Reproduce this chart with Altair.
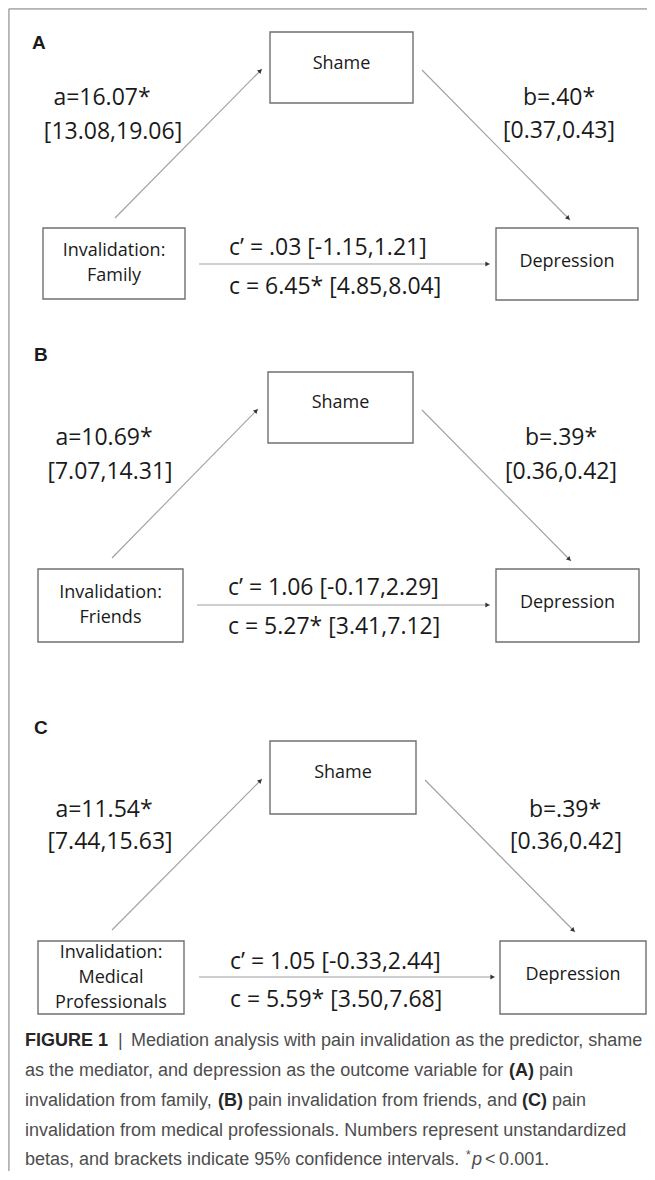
import altair as alt
import pandas as pd
import numpy as np

# ---------------- data (text content) ----------------
panels = ["A", "B", "C"]
mediator = "Shame"
outcome = "Depression"
predictors = [["Invalidation:", "Family"],
              ["Invalidation:", "Friends"],
              ["Invalidation:", "Medical", "Professionals"]]
a_coef = ["a=16.07*", "a=10.69*", "a=11.54*"]
a_ci = ["[13.08,19.06]", "[7.07,14.31]", "[7.44,15.63]"]
b_coef = ["b=.40*", "b=.39*", "b=.39*"]
b_ci = ["[0.37,0.43]", "[0.36,0.42]", "[0.36,0.42]"]
c_direct = ["c\u2019 = .03 [-1.15,1.21]", "c\u2019 = 1.06 [-0.17,2.29]", "c\u2019 = 1.05 [-0.33,2.44]"]
c_total = ["c = 6.45* [4.85,8.04]", "c = 5.27* [3.41,7.12]", "c = 5.59* [3.50,7.68]"]

# caption segments: (line, text, style)
caption_segments = [
    (0, "FIGURE 1", "bold"), (0, "|", "normal"),
    (0, "Mediation analysis with pain invalidation as the predictor, shame", "normal"),
    (1, "as the mediator, and depression as the outcome variable for", "normal"),
    (1, "(A)", "bold"), (1, "pain", "normal"),
    (2, "invalidation from family,", "normal"), (2, "(B)", "bold"),
    (2, "pain invalidation from friends, and", "normal"), (2, "(C)", "bold"), (2, "pain", "normal"),
    (3, "invalidation from medical professionals. Numbers represent unstandardized", "normal"),
    (4, "betas, and brackets indicate 95% confidence intervals.", "normal"),
    (4, "*", "sup"), (4, "p", "italic"), (4, "<\u20090.001.", "normal"),
]

# ---------------- layout (page pixel positions) ----------------
layout = [
    dict(letter=(32, 43), shame=(270, 413, 32, 103), shame_t=64,
         pred=(43, 185, 228, 299), dep=(496, 638, 228, 300), dep_t=262,
         a_arrow=(115, 218, 262, 69), b_arrow=(422, 70, 570, 220), c_arrow=(199, 264, 490, 264),
         a_txt=(102, 98, 113, 132), b_txt=(559, 98, 559, 131), c_txt=(229, 248, 229, 287)),
    dict(letter=(34, 355), shame=(268, 413, 372, 443), shame_t=403,
         pred=(38, 183, 569, 642), dep=(496, 639, 569, 642), dep_t=603,
         a_arrow=(112, 558, 258, 409), b_arrow=(422, 410, 571, 561), c_arrow=(197, 605, 490, 605),
         a_txt=(104, 438, 110, 472), b_txt=(561, 438, 561, 472), c_txt=(228, 588, 228, 627)),
    dict(letter=(34, 728), shame=(270, 416, 741, 814), shame_t=773,
         pred=(38, 184, 941, 1014), dep=(500, 646, 941, 1014), dep_t=975,
         a_arrow=(112, 930, 262, 779), b_arrow=(425, 780, 575, 932), c_arrow=(199, 977, 495, 977),
         a_txt=(104, 810, 110, 842), b_txt=(565, 810, 566, 842), c_txt=(230, 962, 230, 1000)),
]
caption_y = [1041, 1071, 1101, 1131, 1160]
caption_x = [25, 118, 131, 25, 509, 539, 25, 218, 248, 522, 552, 25, 25, 466, 472, 485]

# ---------------- build tables ----------------
boxes, box_text, arrows, heads, big_text, letters = [], [], [], [], [], []
for i, L in enumerate(layout):
    for key in ("shame", "pred", "dep"):
        x0, x1, y0, y1 = L[key]
        boxes.append(dict(x=x0, x2=x1, y=y0, y2=y1))
    sx0, sx1, _, _ = L["shame"]
    box_text.append(dict(x=(sx0 + sx1) / 2, y=L["shame_t"], text=mediator))
    dx0, dx1, _, _ = L["dep"]
    box_text.append(dict(x=(dx0 + dx1) / 2, y=L["dep_t"], text=outcome))
    px0, px1, py0, py1 = L["pred"]
    lines = predictors[i]
    cy = (py0 + py1) / 2
    for k, t in enumerate(lines):
        box_text.append(dict(x=(px0 + px1) / 2, y=cy + (k - (len(lines) - 1) / 2) * 25, text=t))
    for key in ("a_arrow", "b_arrow", "c_arrow"):
        x0, y0, x1, y1 = L[key]
        arrows.append(dict(x=x0, y=y0, x2=x1, y2=y1))
        dx, dy = x1 - x0, y1 - y0
        n = np.hypot(dx, dy)
        ang = (np.degrees(np.arctan2(dx, -dy)) + 360) % 360
        heads.append(dict(x=x1 - dx / n * 2.5, y=y1 - dy / n * 2.5, angle=ang))
    ax, ay, ax2, ay2 = L["a_txt"]
    bx, by, bx2, by2 = L["b_txt"]
    cx, cy1, cx2, cy2 = L["c_txt"]
    big_text += [dict(x=ax, y=ay, text=a_coef[i], al="c"), dict(x=ax2, y=ay2, text=a_ci[i], al="c"),
                 dict(x=bx, y=by, text=b_coef[i], al="c"), dict(x=bx2, y=by2, text=b_ci[i], al="c"),
                 dict(x=cx, y=cy1, text=c_direct[i], al="l"), dict(x=cx2, y=cy2, text=c_total[i], al="l")]
    letters.append(dict(x=L["letter"][0], y=L["letter"][1], text=panels[i]))

cap = pd.DataFrame([dict(x=caption_x[j], y=caption_y[ln] - (5 if st == "sup" else 0), text=t, style=st)
                    for j, (ln, t, st) in enumerate(caption_segments)])

XMAX, YMAX = 647, 1171
frame = pd.DataFrame([dict(x=9, y=9, x2=XMAX, y2=9), dict(x=9, y=9, x2=9, y2=YMAX)])

X = lambda f="x": alt.X(f"{f}:Q", scale=alt.Scale(domain=[8, XMAX], nice=False, zero=False), axis=None)
Y = lambda f="y": alt.Y(f"{f}:Q", scale=alt.Scale(domain=[8, YMAX], nice=False, zero=False, reverse=True), axis=None)

FONT = "Open Sans"
CAPFONT = "Liberation Sans"
CAPSIZE = 18

frame_l = alt.Chart(frame).mark_rule(color="#8a8a8a", strokeWidth=1).encode(
    x=X(), y=Y(), x2="x2:Q", y2="y2:Q")
box_l = alt.Chart(pd.DataFrame(boxes)).mark_rect(fill="white", stroke="#707070", strokeWidth=1.4).encode(
    x=X(), y=Y(), x2="x2:Q", y2="y2:Q")
arrow_l = alt.Chart(pd.DataFrame(arrows)).mark_rule(color="#a0a0a0", strokeWidth=1.1).encode(
    x=X(), y=Y(), x2="x2:Q", y2="y2:Q")
head_l = alt.Chart(pd.DataFrame(heads)).mark_point(shape="triangle-up", filled=True, size=24,
                                                   color="#333333", opacity=1).encode(
    x=X(), y=Y(), angle=alt.Angle("angle:Q", scale=None))
boxtext_l = alt.Chart(pd.DataFrame(box_text)).mark_text(font=FONT, fontSize=18, color="#1a1a1a",
                                                        baseline="middle", align="center").encode(
    x=X(), y=Y(), text="text:N")
bt = pd.DataFrame(big_text)
bigc_l = alt.Chart(bt[bt.al == "c"]).mark_text(font=FONT, fontSize=23, color="#1a1a1a",
                                               baseline="middle", align="center").encode(
    x=X(), y=Y(), text="text:N")
bigl_l = alt.Chart(bt[bt.al == "l"]).mark_text(font=FONT, fontSize=23, color="#1a1a1a",
                                               baseline="middle", align="left").encode(
    x=X(), y=Y(), text="text:N")
letter_l = alt.Chart(pd.DataFrame(letters)).mark_text(font="Liberation Sans", fontSize=19, fontWeight="bold",
                                                      color="#1a1a1a", baseline="middle", align="left").encode(
    x=X(), y=Y(), text="text:N")
cap_norm = alt.Chart(cap[cap["style"] == "normal"]).mark_text(font=CAPFONT, fontSize=CAPSIZE, color="#4d4d4d",
                                                              baseline="middle", align="left").encode(
    x=X(), y=Y(), text="text:N")
cap_bold = alt.Chart(cap[cap["style"] == "bold"]).mark_text(font=CAPFONT, fontSize=CAPSIZE, fontWeight="bold",
                                                            color="#262626", baseline="middle", align="left").encode(
    x=X(), y=Y(), text="text:N")
cap_ital = alt.Chart(cap[cap["style"] == "italic"]).mark_text(font=CAPFONT, fontSize=CAPSIZE, fontStyle="italic",
                                                              color="#4d4d4d", baseline="middle", align="left").encode(
    x=X(), y=Y(), text="text:N")
cap_sup = alt.Chart(cap[cap["style"] == "sup"]).mark_text(font=CAPFONT, fontSize=12, color="#4d4d4d",
                                                          baseline="middle", align="left").encode(
    x=X(), y=Y(), text="text:N")

chart = alt.layer(frame_l, arrow_l, box_l, head_l, boxtext_l, bigc_l, bigl_l, letter_l,
                  cap_norm, cap_bold, cap_ital, cap_sup).properties(
    width=XMAX - 8, height=YMAX - 8, padding=0, autosize=alt.AutoSizeParams(type="none")
).configure_view(stroke=None).configure(background="white")

chart.save("out.html", embed_options={"renderer": "svg", "actions": False})
